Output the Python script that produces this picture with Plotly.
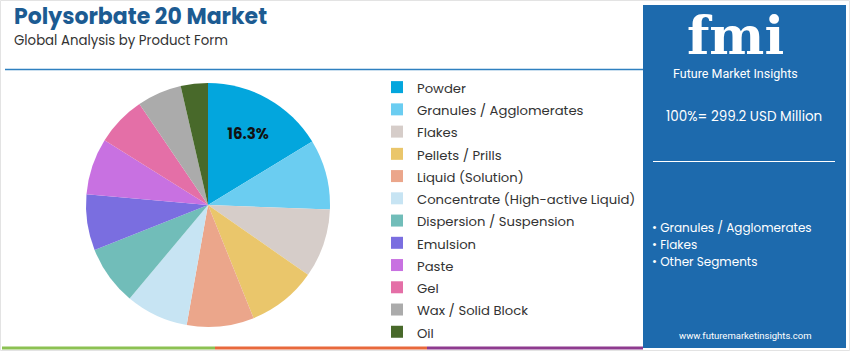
import plotly.graph_objects as go

categories = ["Powder", "Granules / Agglomerates", "Flakes", "Pellets / Prills",
              "Liquid (Solution)", "Concentrate (High-active Liquid)",
              "Dispersion / Suspension", "Emulsion", "Paste", "Gel",
              "Wax / Solid Block", "Oil"]
shares = [16.3, 9.3, 9.1, 9.2, 8.9, 8.3, 7.9, 7.4, 7.5, 6.6, 5.9, 3.6]
colors = ["#03A6DD", "#6BCDF1", "#D6CDC9", "#EAC66B", "#EBA68B", "#C7E4F3",
          "#71BDB9", "#7A6EE0", "#C871E1", "#E46FA7", "#ABABAB", "#48692A"]
labels_shown = ["16.3%"] + [""] * 11

title = "Polysorbate 20 Market"
subtitle = "Global Analysis by Product Form"
total_text = "100%= 299.2 USD Million"
bullets = ["Granules / Agglomerates", "Flakes", "Other Segments"]
url = "www.futuremarketinsights.com"

W, H = 850, 351

def px_x(x):
    return x / W

def px_y(y):
    return 1 - y / H

legend_labels = [f"<span style='font-size:13.2px'>{c}</span>" for c in categories]

fig = go.Figure()
fig.add_trace(go.Pie(
    labels=legend_labels, values=shares, text=labels_shown,
    customdata=categories,
    textinfo="text", textposition="inside", insidetextorientation="horizontal",
    textfont=dict(family="Poppins, Inter, sans-serif", size=15, color="#111111", weight="bold"),
    marker=dict(colors=colors, line=dict(width=0)),
    sort=False, direction="clockwise", rotation=0,
    domain=dict(x=[px_x(86), px_x(330)], y=[px_y(327), px_y(83)]),
    hovertemplate="%{customdata}: %{percent}<extra></extra>",
))

shapes = []
shapes.append(dict(type="rect", xref="paper", yref="paper", x0=px_x(0.5), x1=px_x(849.5),
                   y0=px_y(350.5), y1=px_y(0.5), line=dict(color="#E3E3E3", width=1)))
shapes.append(dict(type="line", xref="paper", yref="paper", x0=px_x(5), x1=px_x(643),
                   y0=px_y(69.5), y1=px_y(69.5), line=dict(color="#2E80C0", width=1.5)))
shapes.append(dict(type="rect", xref="paper", yref="paper", x0=px_x(643), x1=px_x(846),
                   y0=px_y(348), y1=px_y(5), fillcolor="#1D6AAD", line=dict(width=0)))
shapes.append(dict(type="line", xref="paper", yref="paper", x0=px_x(653), x1=px_x(835),
                   y0=px_y(161.5), y1=px_y(161.5), line=dict(color="#FFFFFF", width=1)))
for x0, x1, c in [(2, 215, "#8CC152"), (215, 427, "#E8693C"), (427, 643, "#8E3B8F")]:
    shapes.append(dict(type="line", xref="paper", yref="paper", x0=px_x(x0), x1=px_x(x1),
                       y0=px_y(348), y1=px_y(348), line=dict(color=c, width=3)))

ann = []
ann.append(dict(text=f"<b>{title}</b>", x=px_x(12), y=px_y(17), xanchor="left", yanchor="middle",
                font=dict(family="Poppins, Inter, sans-serif", size=22, color="#1C5B92")))
ann.append(dict(text=subtitle, x=px_x(12), y=px_y(41), xanchor="left", yanchor="middle",
                font=dict(family="Poppins, Inter, sans-serif", size=13.3, color="#333333")))
ann.append(dict(text="<b>fmi</b>", x=px_x(735), y=px_y(35), xanchor="center", yanchor="middle",
                font=dict(family="DejaVu Serif, serif", size=52, color="#FFFFFF"), borderpad=0))
ann.append(dict(text="Future Market Insights", x=px_x(735), y=px_y(73), xanchor="center", yanchor="middle",
                font=dict(family="Roboto, sans-serif", size=12.5, color="#FFFFFF"), borderpad=0))
ann.append(dict(text=total_text, x=px_x(744), y=px_y(117), xanchor="center", yanchor="middle",
                font=dict(family="Poppins, Inter, sans-serif", size=13.5, color="#FFFFFF")))
for i, b in enumerate(bullets):
    ann.append(dict(text="• " + b, x=px_x(651), y=px_y(227 + 17.3 * i), xanchor="left", yanchor="middle",
                    font=dict(family="Poppins, Inter, sans-serif", size=12, color="#FFFFFF"), borderpad=0))
ann.append(dict(text=url, x=px_x(745), y=px_y(335), xanchor="center", yanchor="middle",
                font=dict(family="Roboto, sans-serif", size=9.5, color="#FFFFFF")))
for a in ann:
    a.update(xref="paper", yref="paper", showarrow=False)

fig.update_layout(
    width=W, height=H, margin=dict(l=0, r=0, t=0, b=0),
    paper_bgcolor="#FFFFFF", plot_bgcolor="#FFFFFF",
    shapes=shapes, annotations=ann,
    showlegend=True,
    legend=dict(x=px_x(377), y=px_y(71), xanchor="left", yanchor="top",
                font=dict(family="Poppins, Roboto, sans-serif", size=14.8, color="#333333"),
                bgcolor="rgba(0,0,0,0)", itemclick=False, itemdoubleclick=False),
)

fig.write_html("out.html")
